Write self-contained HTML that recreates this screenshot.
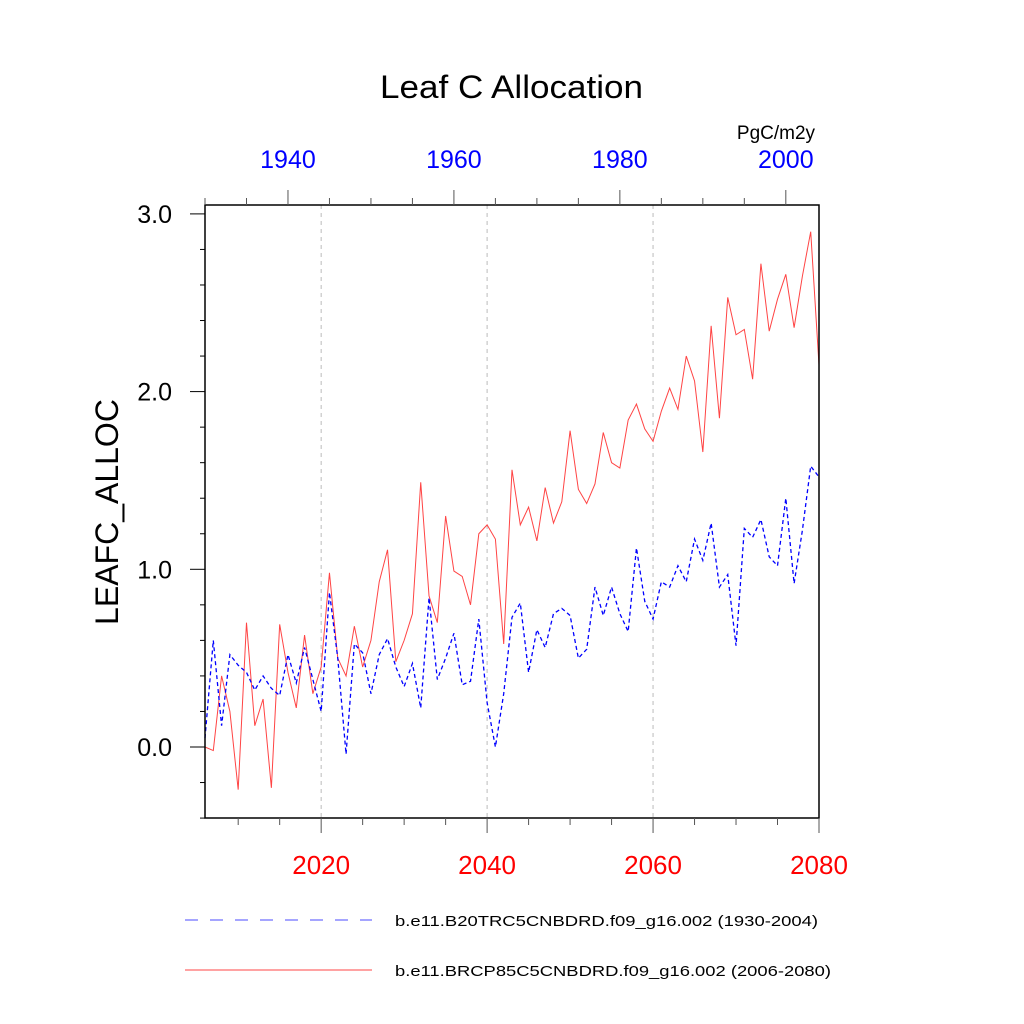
<!DOCTYPE html>
<html><head><meta charset="utf-8"><style>
body{margin:0;background:#fff;}
svg{display:block;font-family:"Liberation Sans",sans-serif;}
</style></head><body>
<svg id="chart" width="1024" height="1024">
<text x="380" y="98" font-size="32" textLength="263" lengthAdjust="spacingAndGlyphs">Leaf C Allocation</text>
<text x="776" y="139" text-anchor="middle" font-size="19">PgC/m2y</text>
<text x="118" y="512" text-anchor="middle" font-size="32" transform="rotate(-90 118 512)">LEAFC_ALLOC</text>
<g id="grid"></g><g id="series"></g><g id="axes"></g>
<g>
<line x1="185" y1="920" x2="372" y2="920" stroke="#00f" stroke-width="1" stroke-dasharray="13,12" opacity="0.7"/>
<text x="395" y="926" font-size="15" textLength="423" lengthAdjust="spacingAndGlyphs">b.e11.B20TRC5CNBDRD.f09_g16.002 (1930-2004)</text>
<line x1="185" y1="970" x2="372" y2="970" stroke="#f44" stroke-width="1"/>
<text x="395" y="976" font-size="15" textLength="436" lengthAdjust="spacingAndGlyphs">b.e11.BRCP85C5CNBDRD.f09_g16.002 (2006-2080)</text>
</g>
</svg>
<script>
const redYears0=2006;
const redValues=[0.0,-0.02,0.4,0.2,-0.24,0.7,0.12,0.27,-0.23,0.69,0.42,0.22,0.63,0.3,0.45,0.98,0.5,0.4,0.68,0.45,0.6,0.93,1.11,0.48,0.6,0.75,1.49,0.85,0.7,1.3,0.99,0.96,0.8,1.2,1.25,1.17,0.58,1.56,1.25,1.35,1.16,1.46,1.26,1.38,1.78,1.45,1.37,1.48,1.77,1.6,1.57,1.84,1.93,1.79,1.72,1.89,2.02,1.9,2.2,2.06,1.66,2.37,1.85,2.53,2.32,2.35,2.07,2.72,2.34,2.52,2.66,2.36,2.65,2.9,2.15];
const blueYears0=1930;
const blueValues=[0.05,0.6,0.12,0.52,0.46,0.42,0.32,0.4,0.33,0.29,0.52,0.36,0.56,0.38,0.2,0.87,0.5,-0.04,0.58,0.53,0.3,0.52,0.61,0.45,0.34,0.47,0.22,0.84,0.38,0.5,0.64,0.35,0.37,0.72,0.25,0.0,0.3,0.73,0.81,0.42,0.66,0.56,0.75,0.78,0.74,0.5,0.55,0.9,0.74,0.9,0.75,0.65,1.12,0.82,0.72,0.93,0.9,1.02,0.93,1.17,1.05,1.26,0.9,0.97,0.57,1.23,1.18,1.28,1.07,1.02,1.4,0.92,1.22,1.58,1.52];
const yTicks=[0,1,2,3];
const yTickLabels=["0.0","1.0","2.0","3.0"];
const bottomTicks=[2020,2040,2060,2080];
const topTicks=[1940,1960,1980,2000];

const L=205,R=819,T=205,B=818;
const y=v=>747-(v)*177.7;
const xb=yr=>L+(yr-2006)*(R-L)/74;
const xt=yr=>L+(yr-1930)*(R-L)/74;
const NS="http://www.w3.org/2000/svg";
function mk(tag,attrs,parent){const e=document.createElementNS(NS,tag);for(const k in attrs)e.setAttribute(k,attrs[k]);document.getElementById(parent).appendChild(e);return e;}

[2020,2040,2060].forEach(yr=>{
 const g=mk('line',{x1:xb(yr),x2:xb(yr),y1:T,y2:B,stroke:'#bbb','stroke-width':1,'stroke-dasharray':'4,4'},'grid');
 
 
});

const rp=mk('polyline',{points:redValues.map((v,i)=>xb(redYears0+i)+','+y(v)).join(' '),fill:'none',stroke:'#f44','stroke-width':1},'series');


const bp=mk('polyline',{points:blueValues.map((v,i)=>xt(blueYears0+i)+','+y(v)).join(' '),fill:'none',stroke:'#00f','stroke-width':1.3,'stroke-dasharray':'4,3'},'series');



const fr=mk('rect',{x:L,y:T,width:R-L,height:B-T,fill:'none',stroke:'#000','stroke-width':1.5},'axes');



for(let v=-0.4;v<=3.01;v+=0.2){
 const vv=Math.round(v*10)/10;
 const major=Math.abs(vv-Math.round(vv))<0.01;
 const t=mk('line',{x1:L-(major?15:5),x2:L,y1:y(vv),y2:y(vv),stroke:'#000','stroke-width':1},'axes');
 
 
}
yTicks.forEach((v,i)=>{
 const t=mk('text',{x:172,y:y(v)+9,'text-anchor':'end','font-size':25},'axes');
 t.textContent=yTickLabels[i];
 
 
});
for(let yr=2010;yr<=2080;yr+=5){
 const major=(yr%20===0);
 const t=mk('line',{x1:xb(yr),x2:xb(yr),y1:B,y2:B+(major?15:7),stroke:'#555','stroke-width':1},'axes');
 
 
}
bottomTicks.forEach(yr=>{
 const t=mk('text',{x:xb(yr),y:874,'text-anchor':'middle','font-size':26,fill:'#f00'},'axes');
 t.textContent=yr;
 
 
});
for(let yr=1930;yr<=2004;yr+=5){
 const major=(yr%20===0);
 const t=mk('line',{x1:xt(yr),x2:xt(yr),y1:T,y2:T-(major?15:7),stroke:'#555','stroke-width':1},'axes');
 
 
}
topTicks.forEach(yr=>{
 const t=mk('text',{x:xt(yr),y:168,'text-anchor':'middle','font-size':25,fill:'#00f'},'axes');
 t.textContent=yr;
 
 
});
</script>
</body></html>
